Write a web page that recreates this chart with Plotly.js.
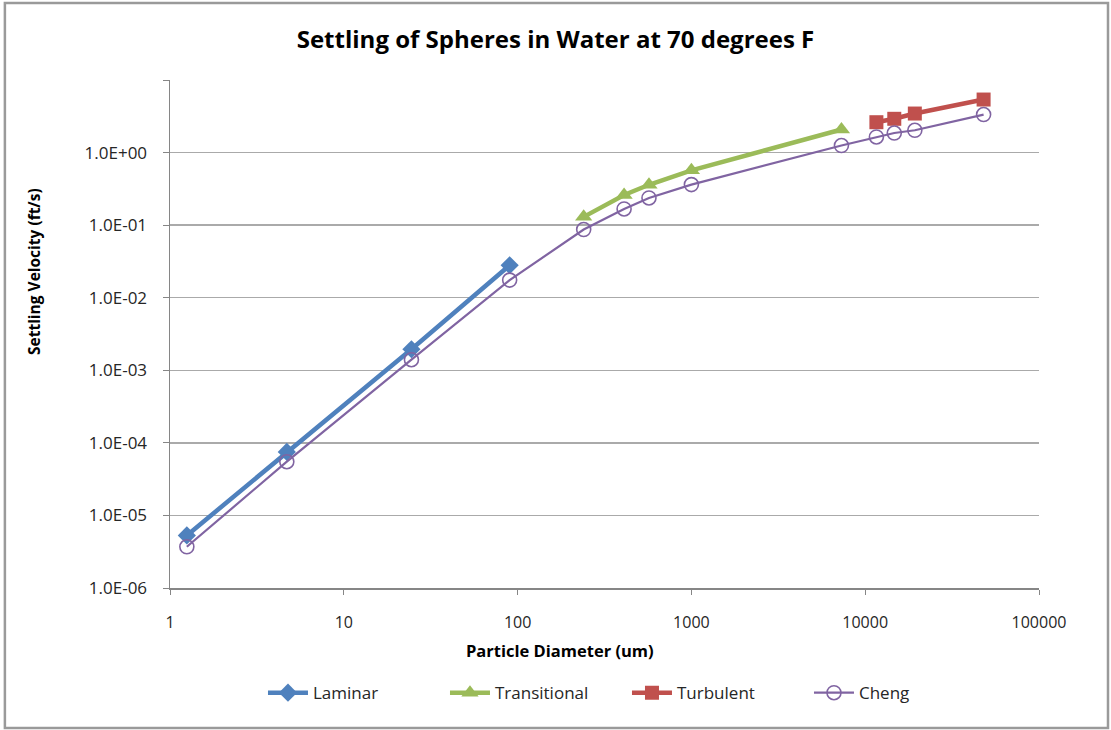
<!DOCTYPE html>
<html>
<head>
<meta charset="utf-8">
<script src="https://cdn.plot.ly/plotly-3.0.1.min.js"></script>
<style>html,body{margin:0;padding:0;background:#fff;}#chart{width:1111px;height:730px;}</style>
</head>
<body>
<div id="chart"></div>
<script>
// Data
const laminarD = [1.25, 4.7, 24.5, 90];
const laminarV = [5.3e-6, 7.5e-5, 1.95e-3, 2.8e-2];
const transD = [240, 410, 570, 1000, 7300];
const transV = [0.13, 0.26, 0.36, 0.57, 2.08];
const turbD = [11600, 14700, 19300, 48000];
const turbV = [2.62, 2.92, 3.45, 5.38];
const chengD = [1.25, 4.7, 24.5, 90, 240, 410, 570, 1000, 7300, 11600, 14700, 19300, 48000];
const chengV = [3.7e-6, 5.5e-5, 1.4e-3, 1.75e-2, 8.7e-2, 0.167, 0.237, 0.362, 1.25, 1.64, 1.86, 2.03, 3.34];
const xTickVals = [1, 10, 100, 1000, 10000, 100000];
const xTickText = ['1', '10', '100', '1000', '10000', '100000'];
const yTickVals = [1e-6, 1e-5, 1e-4, 1e-3, 1e-2, 1e-1, 1, 10];
const yTickText = ['1.0E-06', '1.0E-05', '1.0E-04', '1.0E-03', '1.0E-02', '1.0E-01', '1.0E+00', ''];
const seriesNames = ['Laminar', 'Transitional', 'Turbulent', 'Cheng'];
const chartTitle = 'Settling of Spheres in Water at 70 degrees F';
const xTitle = 'Particle Diameter (um)';
const yTitle = 'Settling Velocity (ft/s)';

const font = "'Open Sans', 'Noto Sans', sans-serif";
const traces = [
  {x: laminarD, y: laminarV, name: seriesNames[0], mode: 'lines+markers',
   line: {color: '#4F81BD', width: 4.5}, marker: {symbol: 'diamond', size: 14, color: '#4F81BD'}},
  {x: transD, y: transV, name: seriesNames[1], mode: 'lines+markers',
   line: {color: '#9BBB59', width: 4.5}, marker: {symbol: 'triangle-up', size: 15, color: '#9BBB59'}},
  {x: turbD, y: turbV, name: seriesNames[2], mode: 'lines+markers',
   line: {color: '#C0504D', width: 4.5}, marker: {symbol: 'square', size: 14, color: '#C0504D'}},
  {x: chengD, y: chengV, name: seriesNames[3], mode: 'lines+markers',
   line: {color: '#8064A2', width: 2.2}, marker: {symbol: 'circle-open', size: 14, color: '#8064A2', line: {width: 1.6}}}
];

const layout = {
  width: 1111, height: 730,
  margin: {l: 170, r: 72, t: 80, b: 142, autoexpand: false},
  paper_bgcolor: '#fff', plot_bgcolor: '#fff',
  font: {family: font, color: '#262626'},
  title: {text: '<b>' + chartTitle + '</b>', x: 0.5, xref: 'container', xanchor: 'center',
          y: 38, yref: 'container', yanchor: 'middle',
          font: {family: font, size: 24, color: '#000'}},
  xaxis: {type: 'log', range: [0, 5], tickvals: xTickVals, ticktext: xTickText,
          showgrid: false, showline: true, linecolor: '#868686', linewidth: 1.5,
          ticks: 'outside', ticklen: 5, tickcolor: '#868686', ticklabelstandoff: 14,
          tickfont: {size: 16, color: '#262626'}},
  yaxis: {type: 'log', range: [-6, 1], tickvals: yTickVals, ticktext: yTickText,
          showgrid: true, gridcolor: '#AAAAAA', gridwidth: 1.3, zeroline: false,
          showline: true, linecolor: '#868686', linewidth: 1.5,
          ticks: 'outside', ticklen: 6, tickcolor: '#868686', ticklabelstandoff: 12,
          tickfont: {size: 17, color: '#262626'}},
  annotations: [
    {text: '<b>' + xTitle + '</b>', xref: 'paper', yref: 'paper', x: 0.449, y: -0.124,
     xanchor: 'center', yanchor: 'middle', showarrow: false, font: {size: 16.5, color: '#000'}},
    {text: '<b>' + yTitle + '</b>', xref: 'paper', yref: 'paper', x: -0.1565, y: 0.622,
     xanchor: 'center', yanchor: 'middle', textangle: -90, showarrow: false, font: {size: 15.5, color: '#000'}}
  ],
  showlegend: true,
  legend: {orientation: 'h', x: 0.107, xanchor: 'left', y: -0.207, yanchor: 'middle',
           font: {size: 17, color: '#262626'}, traceorder: 'normal',
           entrywidth: 127, entrywidthmode: 'pixels', itemwidth: 40},
  shapes: [{type: 'rect', xref: 'paper', yref: 'paper', x0: -0.19, x1: 1.0794, y0: -0.2756, y1: 1.1516,
            line: {color: '#9A9A9A', width: 2.5}, fillcolor: 'rgba(0,0,0,0)', layer: 'below'}]
};

Plotly.newPlot('chart', traces, layout, {displayModeBar: false, staticPlot: true});
</script>
</body>
</html>
